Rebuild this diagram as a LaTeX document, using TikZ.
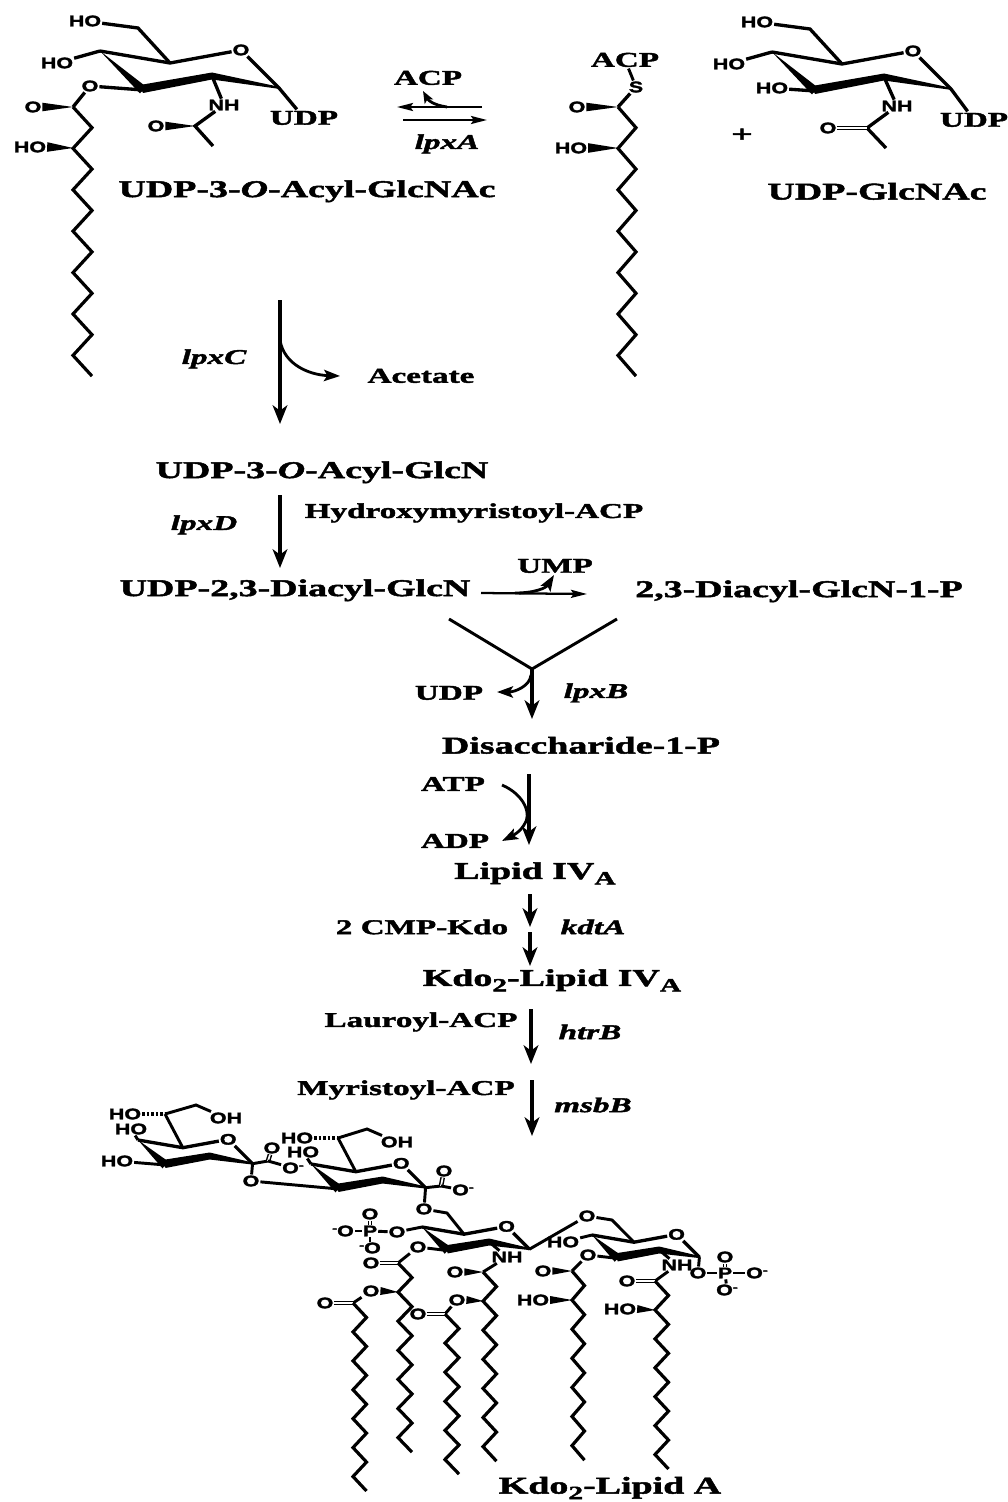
\documentclass[tikz,border=0pt]{standalone}
\usepackage{fontspec}
\setmainfont{Liberation Serif}[FakeStretch=1.58,FakeBold=2]
\newfontfamily\chemf{Liberation Sans}[FakeStretch=1.4,FakeBold=2]
\usetikzlibrary{arrows.meta,calc}
\tikzset{
  big/.style={inner sep=1pt,yshift=-1pt,font=\bfseries\fontsize{18}{20}\selectfont},
  small/.style={inner sep=1pt,yshift=-.7pt,font=\bfseries\fontsize{15.75}{18}\selectfont},
  gene/.style={inner sep=1pt,yshift=-.7pt,font=\bfseries\itshape\fontsize{15.75}{18}\selectfont},
  atom/.style={inner sep=.6pt,font=\chemf\bfseries\fontsize{11.5}{12}\selectfont},
  bond/.style={line width=2.5pt,line join=miter},
  chain/.style={line width=2.4pt,line join=miter},
  thin bond/.style={line width=2.2pt,line join=miter},
  rxn/.style={line width=2.5pt,-{Stealth[length=14pt,width=11pt,inset=4pt]}},
  slim/.style={line width=1.7pt,-{Stealth[length=12pt,width=6pt,inset=2pt]}},
  curved/.style={line width=2.1pt,-{Stealth[length=12pt,width=8.5pt,inset=2.5pt]}},
  dblin/.style={double,line width=1.1pt,double distance=1.3pt},
  hash/.style={line width=3.5pt,dash pattern=on 1.8pt off 1.6pt},
}
% zigzag chain: start x, y, dx, dy, steps
\newcommand\zig[5]{\draw[chain] (#1,#2) \foreach \i in {1,...,#5} { -- ({#1+#3*mod(\i,2)},{#2+#4*\i}) };}
% wedge: narrow at first point, wide at second, half-width third
\newcommand\wdg[3]{\fill ($(#2)!#3!90:(#1)$) -- (#1) -- ($(#2)!#3!-90:(#1)$) -- cycle;}
% sugar ring: prefix, x, y of left vertex, scale
\newcommand\sugar[4]{%
  \coordinate (#1c4) at (#2,#3);
  \coordinate (#1c5) at ({#2+70*#4},{#3+12*#4});
  \coordinate (#1c1) at ({#2+179*#4},{#3+37*#4});
  \coordinate (#1c2) at ({#2+112*#4},{#3+25*#4});
  \coordinate (#1c3) at ({#2+43*#4},{#3+39*#4});
  \node[atom] (#1o) at ({#2+141*#4},{#3-1*#4}) {O};
  \draw[bond] (#1c4) -- (#1c5) -- (#1o) -- (#1c1);
  \wdg{#1c4}{#1c3}{3.4pt}
  \fill ($(#1c3)+(-3,-5)$) -- ($(#1c2)+(0,-3.5)$) -- ($(#1c1)+(1,-1)$) -- ($(#1c1)+(1,1)$) -- ($(#1c2)+(0,3.5)$) -- ($(#1c3)+(0,3)$) -- cycle;
}
\newcommand\minus{\raisebox{.55ex}{\fontsize{8}{8}\selectfont -}}
\newcommand\subs[1]{\raisebox{-.5ex}{\fontsize{14}{14}\selectfont #1}}
\begin{document}
\begin{tikzpicture}[x=.75pt,y=-.75pt]
\useasboundingbox (0,0) rectangle (1007,1502);

% ---------- UDP-3-O-Acyl-GlcNAc
\sugar{a}{100}{51}{1}
\node[atom] (aho6) at (85,21) {HO};
\coordinate (ac6) at (138,28);
\draw[bond] (aho6) -- (ac6) -- (ac5);
\node[atom] (aho4) at (57,63) {HO};
\draw[bond] (aho4) -- (ac4);
\node[atom] (aoe) at (90,86) {O};
\draw[bond] (aoe) -- (ac3);
\coordinate (acc) at (73,107);
\draw[bond] (aoe) -- (acc);
\node[atom] (aco) at (33,107) {O};
\wdg{acc}{aco.east}{3.2pt}
\zig{73}{107}{19}{20.7}{13}
\coordinate (acoh) at (73,148);
\node[atom] (aoh) at (30,147) {HO};
\wdg{acoh}{aoh.east}{3.6pt}
\node[atom] (anh) at (224,105) {NH};
\draw[bond] (ac2) -- (anh);
\coordinate (anc) at (195,126);
\coordinate (anm) at (213,146);
\node[atom] (ano) at (156,126) {O};
\draw[bond] (anh) -- (anc) -- (anm);
\wdg{anc}{ano.east}{3.2pt}
\node[small] (audp) at (304,117) {UDP};
\draw[bond] (ac1) -- (audp);
\node[big] (lbla) at (307,190) {UDP-3-\textit{O}-Acyl-GlcNAc};

% ---------- lpxA
\node[small] (acp1) at (428,77) {ACP};
\node[gene] (lpxA) at (447,143) {lpxA};
\coordinate (ra1) at (482,107); \coordinate (ra2) at (397,107);
\coordinate (rb1) at (403,120); \coordinate (rb2) at (487,120);
\coordinate (rh1) at (447,107); \coordinate (rh2) at (423,91);
\draw[slim] (ra1) -- (ra2);
\draw[slim] (rb1) -- (rb2);
\draw[curved,-{Stealth[length=9pt,width=7pt,inset=2pt]}] (rh1) .. controls (433,105) and (428,100) .. (rh2);

% ---------- ACP-S chain
\node[small] (acp2) at (625,59) {ACP};
\node[atom] (bs) at (636,87) {S};
\coordinate (bcc) at (618,107);
\node[atom] (bco) at (577,107) {O};
\draw[thin bond] (acp2) -- (bs);
\draw[bond] (bs) -- (bcc);
\wdg{bcc}{bco.east}{3.2pt}
\zig{618}{107}{18}{20.7}{13}
\coordinate (bcoh) at (618,148);
\node[atom] (boh) at (571,148) {HO};
\wdg{bcoh}{boh.east}{3.6pt}
\node[big] (plus) at (742,134) {+};

% ---------- UDP-GlcNAc
\sugar{c}{772}{52}{1}
\node[atom] (cho6) at (757,22) {HO};
\coordinate (cc6) at (810,29);
\draw[bond] (cho6) -- (cc6) -- (cc5);
\node[atom] (cho4) at (729,64) {HO};
\draw[bond] (cho4) -- (cc4);
\node[atom] (cho3) at (772,88) {HO};
\draw[bond] (cho3) -- (cc3);
\node[atom] (cnh) at (897,106) {NH};
\draw[bond] (cc2) -- (cnh);
\coordinate (cnc) at (867,128);
\coordinate (cnm) at (886,148);
\node[atom] (cno) at (828,128) {O};
\draw[bond] (cnh) -- (cnc) -- (cnm);
\draw[dblin] (cno) -- (cnc);
\node[small] (cudp) at (974,119) {UDP};
\draw[bond] (cc1) -- (cudp);
\node[big] (lblc) at (877,190) {UDP-GlcNAc};

% ---------- pathway
\node[gene] (lpxC) at (214,358) {lpxC};
\node[small] (acet) at (421,375) {Acetate};
\coordinate (p1) at (280,300); \coordinate (p2) at (280,424);
\coordinate (p3) at (280,340); \coordinate (p4) at (340,376);
\draw[rxn] (p1) -- (p2);
\draw[curved] (p3) .. controls (284,365) and (310,375) .. (p4);
\node[big] (lbld) at (322,471) {UDP-3-\textit{O}-Acyl-GlcN};
\node[gene] (lpxD) at (204,524) {lpxD};
\node[small] (hmacp) at (474,512) {Hydroxymyristoyl-ACP};
\coordinate (q1) at (280,495); \coordinate (q2) at (280,568);
\draw[rxn] (q1) -- (q2);
\node[big] (lble) at (295,589) {UDP-2,3-Diacyl-GlcN};
\node[small] (ump) at (555,565) {UMP};
\node[big] (lblf) at (799,590) {2,3-Diacyl-GlcN-1-P};
\coordinate (u1) at (481,593); \coordinate (u2) at (587,594);
\coordinate (u3) at (515,593); \coordinate (u4) at (554,575);
\draw[slim] (u1) -- (u2);
\draw[curved] (u3) .. controls (535,593) and (546,588) .. (u4);
\coordinate (y1) at (449,619); \coordinate (y2) at (617,619);
\coordinate (y0) at (532,669); \coordinate (y3) at (532,719);
\draw[line width=2.2pt] (y1) -- (y0) -- (y2);
\draw[rxn] (y0) -- (y3);
\node[small] (udp3) at (449,692) {UDP};
\node[gene] (lpxB) at (596,692) {lpxB};
\coordinate (y4) at (531,675); \coordinate (y5) at (497,692);
\draw[curved] (y4) .. controls (530,686) and (515,692) .. (y5);
\node[big] (lblg) at (581,744) {Disaccharide-1-P};
\node[small] (atp) at (453,783) {ATP};
\node[small] (adp) at (455,840) {ADP};
\coordinate (l1) at (529,774); \coordinate (l2) at (529,845);
\coordinate (l3) at (502,785); \coordinate (l4) at (502,841);
\draw[rxn] (l1) -- (l2);
\draw[curved] (l3) .. controls (525,795) and (532,815) .. (524,825) .. controls (520,832) and (512,836) .. (l4);
\node[big] (lblh) at (535,872) {Lipid IV\subs{A}};
\node[small] (cmp) at (422,926) {2 CMP-Kdo};
\node[gene] (kdtA) at (593,926) {kdtA};
\coordinate (k1) at (530,894); \coordinate (k2) at (530,927);
\coordinate (k3) at (530,932); \coordinate (k4) at (530,966);
\draw[rxn] (k1) -- (k2);
\draw[rxn] (k3) -- (k4);
\node[big] (lbli) at (552,979) {Kdo\subs{2}-Lipid IV\subs{A}};
\node[small] (lau) at (421,1021) {Lauroyl-ACP};
\node[gene] (htrB) at (590,1031) {htrB};
\coordinate (h1) at (531,1009); \coordinate (h2) at (531,1064);
\draw[rxn] (h1) -- (h2);
\node[small] (myr) at (406,1089) {Myristoyl-ACP};
\node[gene] (msbB) at (593,1104) {msbB};
\coordinate (m1) at (532,1080); \coordinate (m2) at (532,1136);
\draw[rxn] (m1) -- (m2);

% ---------- Kdo 1
\sugar{d}{138}{1140}{.64}
\node[atom] (dho7) at (125,1114) {HO};
\coordinate (dc7) at (165,1114); \coordinate (dc8) at (196,1105);
\node[atom] (doh) at (226,1118) {OH};
\draw[hash] (dho7) -- (dc7);
\draw[thin bond] (dc7) -- (dc8) -- (doh);
\draw[thin bond] (dc7) -- (dc5);
\node[atom] (dho5) at (131,1129) {HO};
\draw[thin bond] (dho5) -- (dc4);
\node[atom] (dho4) at (117,1161) {HO};
\draw[thin bond] (dho4) -- (dc3);
\coordinate (dcx) at (268,1161);
\node[atom] (dox) at (272,1148) {O};
\node[atom] (dom) at (293,1168) {O\minus};
\draw[thin bond] (dc1) -- (dcx);
\draw[dblin] (dcx) -- (dox);
\draw[thin bond] (dcx) -- (dom);
\node[atom] (dol) at (251,1181) {O};
\draw[thin bond] (dc1) -- (dol);

% ---------- Kdo 2
\sugar{e}{311}{1164}{.64}
\draw[thin bond] (dol) -- (ec3);
\node[atom] (eho7) at (297,1138) {HO};
\coordinate (ec7) at (338,1138); \coordinate (ec8) at (367,1129);
\node[atom] (eoh) at (397,1142) {OH};
\draw[hash] (eho7) -- (ec7);
\draw[thin bond] (ec7) -- (ec8) -- (eoh);
\draw[thin bond] (ec7) -- (ec5);
\node[atom] (eho5) at (303,1152) {HO};
\draw[thin bond] (eho5) -- (ec4);
\coordinate (ecx) at (441,1186);
\node[atom] (eox) at (444,1171) {O};
\node[atom] (eom) at (463,1190) {O\minus};
\draw[thin bond] (ec1) -- (ecx);
\draw[dblin] (ecx) -- (eox);
\draw[thin bond] (ecx) -- (eom);
\node[atom] (eol) at (424,1209) {O};
\draw[thin bond] (ec1) -- (eol);

% ---------- GlcN ring 1
\sugar{f}{422}{1227}{.6}
\coordinate (fc6) at (447,1213);
\draw[thin bond] (eol) -- (fc6) -- (fc5);
\node[atom] (fp) at (370,1231) {P};
\node[atom] (fop) at (397,1232) {O};
\node[atom] (fot) at (370,1214) {O};
\node[atom] (fol) at (343,1231) {\minus O};
\node[atom] (fob) at (370,1248) {\minus O};
\draw[thin bond] (fop) -- (fc4);
\draw[thin bond] (fp) -- (fop);
\draw[thin bond] (fp) -- (fol);
\draw[thin bond] (fp) -- (fob);
\draw[dblin] (fp) -- (fot);
\node[atom] (fnh) at (507,1257) {NH};
\draw[thin bond] (fc2) -- (fnh);
\coordinate (fa1) at (483,1272);
\node[atom] (fao) at (455,1272) {O};
\draw[thin bond] (fnh) -- (fa1);
\wdg{fa1}{fao.east}{2.8pt}
\zig{483}{1272}{13.5}{14.55}{13}
\coordinate (fa3) at (483,1301);
\node[atom] (fae) at (457,1300) {O};
\wdg{fa3}{fae.east}{3pt}
\coordinate (fb1) at (445,1314);
\node[atom] (fbo) at (418,1314) {O};
\draw[thin bond] (fae) -- (fb1);
\draw[dblin] (fbo) -- (fb1);
\zig{445}{1314}{14}{14.55}{11}
\node[atom] (fe1) at (418,1247) {O};
\coordinate (fe1c) at (443,1250);
\draw[thin bond] (fe1) -- (fe1c);
\coordinate (fc) at (398,1263);
\node[atom] (fco) at (371,1263) {O};
\draw[thin bond] (fe1) -- (fc);
\draw[dblin] (fco) -- (fc);
\zig{398}{1263}{14}{14.55}{13}
\coordinate (fc3) at (398,1292);
\node[atom] (fe2) at (371,1291) {O};
\wdg{fc3}{fe2.east}{3pt}
\coordinate (fd) at (353,1303);
\node[atom] (fdo) at (325,1303) {O};
\draw[thin bond] (fe2) -- (fd);
\draw[dblin] (fdo) -- (fd);
\zig{353}{1303}{13.5}{14.46}{13}

% ---------- GlcN ring 2
\node[atom] (gol) at (587,1216) {O};
\draw[thin bond] (fc1) -- (gol);
\sugar{g}{592}{1235}{.6}
\coordinate (gc6) at (612,1220);
\draw[thin bond] (gol) -- (gc6) -- (gc5);
\node[atom] (gho) at (563,1242) {HO};
\draw[thin bond] (gho) -- (gc4);
\node[atom] (ge) at (588,1255) {O};
\draw[thin bond] (ge) -- (gc3);
\coordinate (gcc) at (572,1271);
\node[atom] (gco) at (543,1271) {O};
\draw[thin bond] (ge) -- (gcc);
\wdg{gcc}{gco.east}{2.8pt}
\zig{572}{1271}{12.5}{14.55}{13}
\coordinate (gc3b) at (572,1300);
\node[atom] (goh) at (533,1300) {HO};
\wdg{gc3b}{goh.east}{3pt}
\node[atom] (gnh) at (677,1265) {NH};
\draw[thin bond] (gc2) -- (gnh);
\coordinate (gnc) at (655,1281);
\node[atom] (gno) at (627,1281) {O};
\draw[thin bond] (gnh) -- (gnc);
\draw[dblin] (gno) -- (gnc);
\zig{655}{1281}{13.5}{14.46}{13}
\coordinate (gnc3) at (655,1310);
\node[atom] (gnoh) at (620,1309) {HO};
\wdg{gnc3}{gnoh.east}{3pt}
\node[atom] (gop) at (698,1273) {O};
\draw[thin bond] (gc1) -- (gop);
\node[atom] (gp) at (725,1273) {P};
\node[atom] (got) at (725,1257) {O};
\node[atom] (gob) at (727,1290) {O\minus};
\node[atom] (gor) at (757,1273) {O\minus};
\draw[thin bond] (gop) -- (gp);
\draw[thin bond] (gp) -- (gor);
\draw[thin bond] (gp) -- (gob);
\draw[dblin] (gp) -- (got);

\node[big,yshift=1pt] (lblz) at (610,1488) {Kdo\subs{2}-Lipid A};
\end{tikzpicture}
\end{document}
